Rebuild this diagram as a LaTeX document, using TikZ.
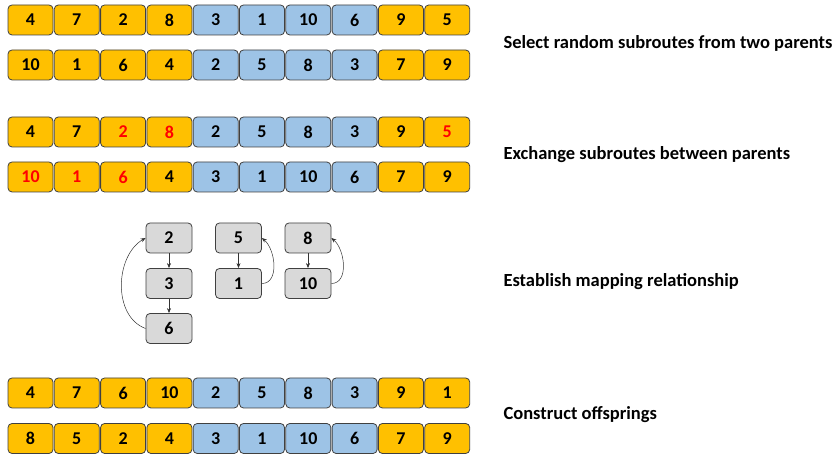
\documentclass[tikz,border=0pt]{standalone}
\usepackage{fontspec}
\setmainfont{Carlito}
\usetikzlibrary{arrows.meta}
\definecolor{gold}{HTML}{FFC000}
\definecolor{sky}{HTML}{9DC3E6}
\definecolor{mapgray}{HTML}{D9D9D9}

\begin{document}
\begin{tikzpicture}[x=1pt,y=1pt]
            \tikzset{cell/.style = {rectangle, rounded corners=4pt, draw=black!75, line width=0.8pt, minimum width=45pt, minimum height=30pt, inner sep=0pt, font=\bfseries\fontsize{18}{21}\selectfont}}
            \tikzset{orangecell/.style = {cell, fill=gold}}
            \tikzset{bluecell/.style = {cell, fill=sky}}
            \tikzset{redcell/.style = {cell, fill=gold, text=red}}
            \tikzset{mapcell/.style = {cell, fill=mapgray, minimum width=46pt}}
            \tikzset{step label/.style = {anchor=west, font=\bfseries\fontsize{18.5}{22}\selectfont}}
            \tikzset{maparrow/.style = {-{Stealth[length=5pt,width=4pt]}, draw=black!80, line width=0.5pt}}
            \useasboundingbox (0,0) rectangle (835,454);
            
            % parents
            \foreach \v/\s [count=\i from 0] in {4/orangecell,7/orangecell,2/orangecell,8/orangecell,3/bluecell,1/bluecell,10/bluecell,6/bluecell,9/orangecell,5/orangecell}
                \node[\s] (p1-\i) at ({30.5+46.3*\i},434) {\v};
            \foreach \v/\s [count=\i from 0] in {10/orangecell,1/orangecell,6/orangecell,4/orangecell,2/bluecell,5/bluecell,8/bluecell,3/bluecell,7/orangecell,9/orangecell}
                \node[\s] (p2-\i) at ({30.5+46.3*\i},389) {\v};
            
            % after exchange
            \foreach \v/\s [count=\i from 0] in {4/orangecell,7/orangecell,2/redcell,8/redcell,2/bluecell,5/bluecell,8/bluecell,3/bluecell,9/orangecell,5/redcell}
                \node[\s] (x1-\i) at ({30.5+46.3*\i},322) {\v};
            \foreach \v/\s [count=\i from 0] in {10/redcell,1/redcell,6/redcell,4/orangecell,3/bluecell,1/bluecell,10/bluecell,6/bluecell,7/orangecell,9/orangecell}
                \node[\s] (x2-\i) at ({30.5+46.3*\i},277) {\v};
            
            % mapping
            \node[mapcell] (m2) at (169,216) {2};
            \node[mapcell] (m3) at (169,170.5) {3};
            \node[mapcell] (m6) at (169,125.5) {6};
            \node[mapcell] (m5) at (238.5,216) {5};
            \node[mapcell] (m1) at (238.5,170.5) {1};
            \node[mapcell] (m8) at (308,216) {8};
            \node[mapcell] (m10) at (308,170.5) {10};
            
            \draw[maparrow] (m2) -- (m3);
            \draw[maparrow] (m3) -- (m6);
            \draw[maparrow] (m6.west) to[out=160,in=210] (m2.west);
            \draw[maparrow] (m5) -- (m1);
            \draw[maparrow] (m1.east) to[out=0,in=-40] (m5.east);
            \draw[maparrow] (m8) -- (m10);
            \draw[maparrow] (m10.east) to[out=0,in=-40] (m8.east);
            
            % offsprings
            \foreach \v/\s [count=\i from 0] in {4/orangecell,7/orangecell,6/orangecell,10/orangecell,2/bluecell,5/bluecell,8/bluecell,3/bluecell,9/orangecell,1/orangecell}
                \node[\s] (o1-\i) at ({30.5+46.3*\i},61) {\v};
            \foreach \v/\s [count=\i from 0] in {8/orangecell,5/orangecell,2/orangecell,4/orangecell,3/bluecell,1/bluecell,10/bluecell,6/bluecell,7/orangecell,9/orangecell}
                \node[\s] (o2-\i) at ({30.5+46.3*\i},15.5) {\v};
            
            \node[step label] (l1) at (500,411) {Select random subroutes from two parents};
            \node[step label] (l2) at (500,299) {Exchange subroutes between parents};
            \node[step label] (l3) at (500,172) {Establish mapping relationship};
            \node[step label] (l4) at (500,39) {Construct offsprings};
            
        \end{tikzpicture}
\end{document}
